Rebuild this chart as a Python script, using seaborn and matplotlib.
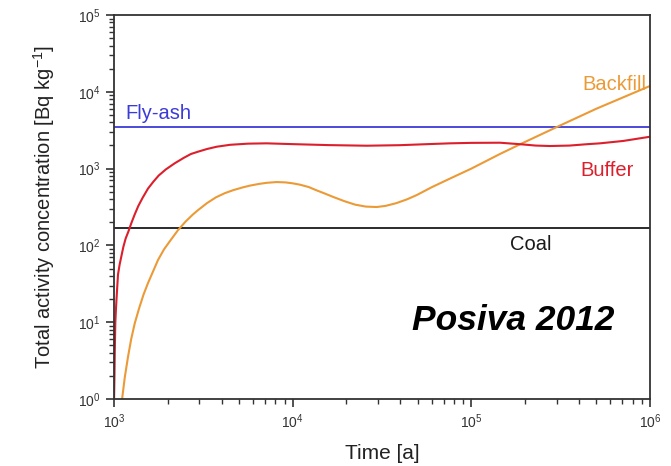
import numpy as np
import pandas as pd
import matplotlib
matplotlib.use("Agg")
import matplotlib.pyplot as plt
import seaborn as sns
from matplotlib.ticker import LogLocator, NullFormatter

# ---- data ----
buffer_t = [1000, 1005, 1009, 1016, 1026, 1038, 1052, 1074, 1099, 1127,
            1161, 1202, 1245, 1303, 1365, 1445, 1549, 1660, 1778, 1950,
            2188, 2455, 2692, 2951, 3311, 3758, 4467, 5623, 7145, 8913,
            10990, 15850, 25940, 39810, 56230, 75860, 100000, 144500, 186200, 229100,
            275400, 354800, 446700, 524800, 707900, 1000000]
buffer_y = [1.0, 2.0, 4.0, 9.7, 15.8, 25.1, 41.7, 56.2, 72.4, 95.5,
            123, 151, 191, 251, 324, 417, 550, 676, 813, 977,
            1175, 1380, 1549, 1660, 1799, 1928, 2042, 2113, 2133, 2099,
            2070, 2023, 1986, 2018, 2080, 2133, 2163, 2173, 2080, 1995,
            1968, 1995, 2080, 2133, 2291, 2600]

backfill_t = [1109, 1148, 1197, 1247, 1306, 1380, 1462, 1549, 1652, 1762,
              1905, 2089, 2280, 2512, 2754, 2951, 3311, 3715, 4169, 4656,
              5248, 5754, 6457, 7145, 8128, 9120, 10000, 10990, 12300, 13490,
              15140, 16870, 19500, 22390, 25700, 29510, 33110, 38020, 43650, 49430,
              60260, 75860, 100000, 144500, 187100, 299900, 501200, 1000000]
backfill_y = [1.0, 1.91, 3.55, 6.03, 9.7, 15.1, 22.9, 32.4, 45.7, 64.6,
              89.1, 120, 158, 204, 251, 288, 355, 422, 479, 525,
              569, 600, 631, 653, 668, 661, 643, 617, 575, 525,
              473, 427, 376, 339, 320, 316, 327, 355, 398, 452,
              575, 741, 1000, 1549, 2070, 3467, 6026, 11910]

flyash_level = 3450
coal_level = 167

x_limits = [1e3, 1e6]
y_limits = [1e0, 1e5]

labels = ["Fly-ash", "Backfill", "Buffer", "Coal"]
watermark = "Posiva 2012"
x_label = "Time [a]"
y_label = "Total activity concentration [Bq kg$^{-1}$]"

# ---- style ----
sns.set_style("white")
plt.rcParams["font.family"] = ["Liberation Sans", "DejaVu Sans"]
plt.rcParams["mathtext.fontset"] = "custom"
plt.rcParams["mathtext.rm"] = "Liberation Sans"
plt.rcParams["mathtext.it"] = "Liberation Sans:italic"

c_blue = "#3b3bd8"
c_red = "#dc1f2c"
c_orange = "#eb9a36"
c_black = "#1a1a1a"

fig = plt.figure(figsize=(6.71, 4.66), dpi=100)
ax = fig.add_axes([0.170, 0.1438, 0.7987, 0.824])

df_buf = pd.DataFrame({"t": buffer_t, "y": buffer_y})
df_back = pd.DataFrame({"t": backfill_t, "y": backfill_y})
df_fly = pd.DataFrame({"t": x_limits, "y": [flyash_level] * 2})
df_coal = pd.DataFrame({"t": x_limits, "y": [coal_level] * 2})

sns.lineplot(data=df_fly, x="t", y="y", ax=ax, color=c_blue, lw=1.3, estimator=None, sort=False)
sns.lineplot(data=df_coal, x="t", y="y", ax=ax, color=c_black, lw=1.3, estimator=None, sort=False)
sns.lineplot(data=df_back, x="t", y="y", ax=ax, color=c_orange, lw=1.5, estimator=None, sort=False)
sns.lineplot(data=df_buf, x="t", y="y", ax=ax, color=c_red, lw=1.5, estimator=None, sort=False)
for ln in ax.lines:
    ln.set_solid_joinstyle("round")
    ln.set_solid_capstyle("round")

ax.set_xscale("log")
ax.set_yscale("log")
ax.set_xlim(*x_limits)
ax.set_ylim(*y_limits)

ax.xaxis.set_major_locator(LogLocator(base=10, numticks=10))
ax.yaxis.set_major_locator(LogLocator(base=10, numticks=10))
ax.xaxis.set_minor_locator(LogLocator(base=10, subs=np.arange(2, 10), numticks=20))
ax.yaxis.set_minor_locator(LogLocator(base=10, subs=np.arange(2, 10), numticks=20))
ax.xaxis.set_minor_formatter(NullFormatter())
ax.yaxis.set_minor_formatter(NullFormatter())

ax.tick_params(which="major", direction="out", length=6, width=1.2, colors="#333333",
               labelsize=10, bottom=True, left=True, top=False, right=False, pad=4)
ax.tick_params(which="minor", direction="out", length=3.5, width=1.0, colors="#333333",
               bottom=True, left=True, top=False, right=False)
for s in ax.spines.values():
    s.set_color("#333333")
    s.set_linewidth(1.3)

ax.set_xlabel(x_label, fontsize=15, color="#222222", labelpad=9)
ax.set_ylabel(y_label, fontsize=14.5, color="#222222", labelpad=15)

ax.text(1152, 10**3.646, labels[0], color=c_blue, fontsize=14.5, ha="left", va="baseline")
ax.text(10**5.624, 10**4.023, labels[1], color=c_orange, fontsize=14.5, ha="left", va="baseline")
ax.text(10**5.608, 10**2.908, labels[2], color=c_red, fontsize=14.5, ha="left", va="baseline")
ax.text(10**5.216, 10**1.94, labels[3], color=c_black, fontsize=14.5, ha="left", va="baseline")
ax.text(10**4.668, 10**0.898, watermark, color="black", fontsize=25.5, fontweight="bold",
        fontstyle="italic", ha="left", va="baseline")

fig.savefig("out.png", dpi=100, facecolor="white")
